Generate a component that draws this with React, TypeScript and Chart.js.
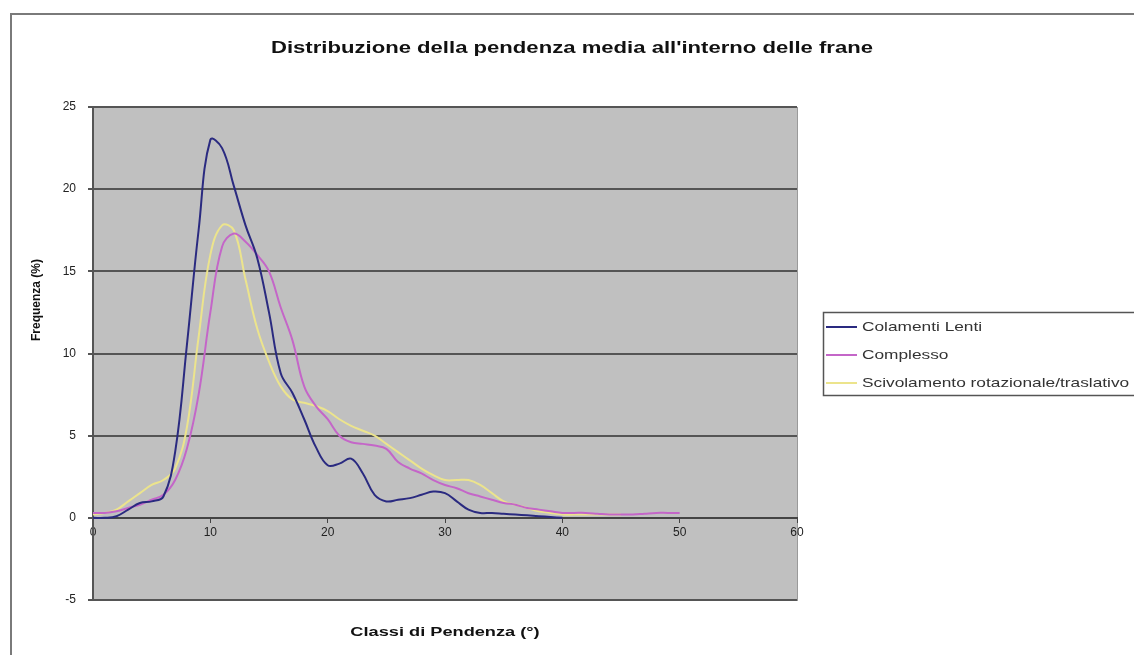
import React, { useEffect, useRef } from "react";
import { Chart, registerables } from "chart.js";

Chart.register(...registerables);

const chartTitle = "Distribuzione della pendenza media all'interno delle frane";
const xAxisTitle = "Classi di Pendenza (°)";
const yAxisTitle = "Frequenza (%)";

const slopeClasses = [
  0, 1, 2, 3, 4, 5, 6, 7, 8, 9, 10, 11, 12, 13, 14, 15, 16, 17, 18, 19, 20,
  21, 22, 23, 24, 25, 26, 27, 28, 29, 30, 31, 32, 33, 34, 35, 36, 37, 38, 39,
  40, 41, 42, 43, 44, 45, 46, 47, 48, 49, 50,
];

const seriesNames = [
  "Colamenti Lenti",
  "Complesso",
  "Scivolamento rotazionale/traslativo",
];

const colamentiLenti = [
  0, 0, 0.1, 0.5, 0.9, 1.0, 1.3, 4.0, 10.5, 17.5, 23.0, 22.5, 20.2, 17.8, 15.8,
  12.5, 8.8, 7.6, 6.0, 4.3, 3.2, 3.3, 3.6, 2.7, 1.4, 1.0, 1.1, 1.2, 1.4, 1.6,
  1.5, 1.0, 0.5, 0.3, 0.3, 0.25, 0.2, 0.15, 0.1, 0.05, 0,
];

const complesso = [
  0.3, 0.3, 0.4, 0.6, 0.8, 1.1, 1.4, 2.3, 4.2, 7.5, 12.5, 16.5, 17.3, 16.8,
  16.0, 15.0, 12.8, 10.8, 8.0, 6.8, 6.0, 5.0, 4.6, 4.5, 4.4, 4.2, 3.4, 3.0, 2.7,
  2.3, 2.0, 1.8, 1.5, 1.3, 1.1, 0.9, 0.8, 0.6, 0.5, 0.4, 0.3, 0.3, 0.3, 0.25,
  0.2, 0.2, 0.2, 0.25, 0.3, 0.3, 0.3,
];

const scivolamento = [
  0.2, 0.3, 0.5, 1.0, 1.5, 2.0, 2.3, 3.0, 5.5, 11.0, 16.0, 17.8, 17.5, 14.5,
  11.5, 9.5, 8.0, 7.2, 7.0, 6.8, 6.5, 6.0, 5.6, 5.3, 5.0, 4.5, 4.0, 3.5, 3.0,
  2.6, 2.3, 2.3, 2.3, 2.0, 1.5, 1.0, 0.8, 0.6, 0.4, 0.3, 0.2, 0.2, 0.2, 0.2,
  0.2, 0.2,
];

const seriesColors = ["#2a2a80", "#c466c8", "#ece48c"];

const FONT = '"Liberation Sans", Arial, sans-serif';

function toPoints(values: number[]) {
  return values.map((v, i) => ({ x: slopeClasses[i], y: v }));
}

function stretchedText(
  ctx: CanvasRenderingContext2D,
  text: string,
  x: number,
  y: number,
  sx: number,
  align: CanvasTextAlign
) {
  ctx.save();
  ctx.translate(x, y);
  ctx.scale(sx, 1);
  ctx.textAlign = align;
  ctx.fillText(text, 0, 0);
  ctx.restore();
}

const decorPlugin = {
  id: "decor",
  beforeDraw(chart: any) {
    const { ctx, chartArea: a } = chart;
    ctx.save();
    ctx.fillStyle = "#ffffff";
    ctx.fillRect(0, 0, chart.width, chart.height);
    ctx.fillStyle = "#c0c0c0";
    ctx.fillRect(a.left, a.top, a.right - a.left, a.bottom - a.top);
    ctx.strokeStyle = "#9a9a9a";
    ctx.lineWidth = 1;
    ctx.strokeRect(a.left + 0.5, a.top + 0.5, a.right - a.left, a.bottom - a.top);
    ctx.restore();
  },
  afterDraw(chart: any) {
    const { ctx, chartArea: a } = chart;
    ctx.save();
    // outer chart border
    ctx.strokeStyle = "#7a7a7a";
    ctx.lineWidth = 2;
    ctx.beginPath();
    ctx.moveTo(11, chart.height);
    ctx.lineTo(11, 14);
    ctx.lineTo(chart.width, 14);
    ctx.stroke();

    ctx.fillStyle = "#111";
    ctx.textBaseline = "middle";
    // main title
    ctx.font = `bold 17px ${FONT}`;
    stretchedText(ctx, chartTitle, 572, 48, 1.3, "center");
    // x axis title
    ctx.font = `bold 13px ${FONT}`;
    stretchedText(ctx, xAxisTitle, (a.left + a.right) / 2, 632, 1.4, "center");
    // y axis title
    ctx.font = `bold 12px ${FONT}`;
    ctx.save();
    ctx.translate(37, 300);
    ctx.rotate(-Math.PI / 2);
    ctx.textAlign = "center";
    ctx.fillText(yAxisTitle, 0, 0);
    ctx.restore();
    ctx.restore();

    // legend
    ctx.save();
    const lx = 823;
    const ly = 312;
    ctx.fillStyle = "#ffffff";
    ctx.fillRect(lx, ly, chart.width - lx + 10, 83);
    ctx.strokeStyle = "#555";
    ctx.lineWidth = 1.5;
    ctx.strokeRect(lx + 0.5, ly + 0.5, chart.width - lx + 10, 83);
    ctx.font = `13px ${FONT}`;
    ctx.textBaseline = "middle";
    chart.data.datasets.forEach((ds: any, i: number) => {
      const y = 327 + i * 28;
      ctx.strokeStyle = ds.borderColor;
      ctx.lineWidth = 2;
      ctx.beginPath();
      ctx.moveTo(826, y);
      ctx.lineTo(857, y);
      ctx.stroke();
      ctx.fillStyle = "#333";
      stretchedText(ctx, ds.label, 862, y, 1.33, "left");
    });
    ctx.restore();
  },
};

export default function App() {
  const canvasRef = useRef<HTMLCanvasElement | null>(null);

  useEffect(() => {
    const canvas = canvasRef.current;
    if (!canvas) return;
    const mk = (i: number, values: number[]) => ({
      label: seriesNames[i],
      data: toPoints(values),
      borderColor: seriesColors[i],
      borderWidth: 2,
      pointRadius: 0,
      tension: 0.4,
      fill: false,
    });
    const chart = new Chart(canvas, {
      type: "line",
      data: {
        datasets: [mk(0, colamentiLenti), mk(1, complesso), mk(2, scivolamento)],
      },
      options: {
        responsive: false,
        animation: false,
        layout: { padding: { left: 10, top: 107, right: 337, bottom: 55 } },
        plugins: {
          legend: { display: false },
          tooltip: { enabled: false },
          title: { display: false },
        },
        scales: {
          x: {
            type: "linear",
            min: 0,
            max: 60,
            position: { y: 0 } as any,
            afterFit: (s: any) => {
              s.height = 0;
            },
            ticks: {
              stepSize: 10,
              color: "#222",
              padding: 4,
              font: { family: FONT, size: 12 },
            },
            grid: {
              drawOnChartArea: false,
              drawTicks: true,
              tickLength: 4,
              color: "#444",
            },
            border: { display: true, color: "#444", width: 2 },
          },
          y: {
            min: -5,
            max: 25,
            afterFit: (s: any) => {
              s.width = 83;
            },
            ticks: {
              stepSize: 5,
              color: "#222",
              padding: 12,
              font: { family: FONT, size: 12 },
            },
            grid: {
              color: "#555",
              lineWidth: 2,
              tickLength: 5,
            },
            border: { display: true, color: "#555", width: 2 },
          },
        },
      },
      plugins: [decorPlugin],
    });
    return () => chart.destroy();
  }, []);

  return (
    <div style={{ position: "fixed", left: 0, top: 0, width: 1134, height: 655, background: "#fff" }}>
      <canvas ref={canvasRef} width={1134} height={655} style={{ display: "block" }} />
    </div>
  );
}
